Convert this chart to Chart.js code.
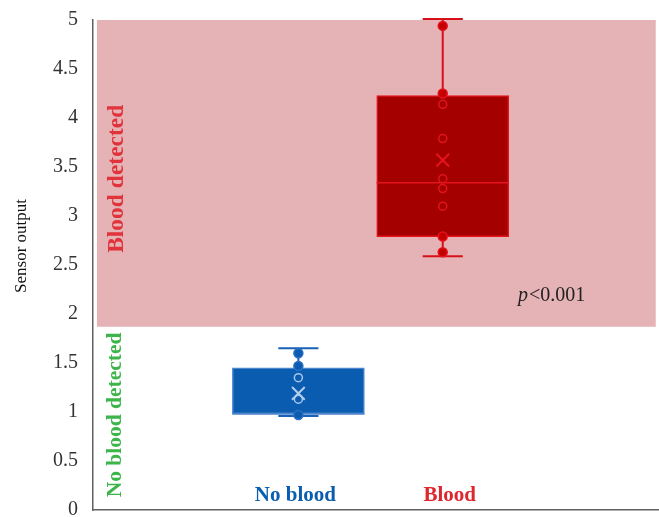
<!DOCTYPE html>
<html>
<head>
<meta charset="utf-8">
<script src="https://cdn.jsdelivr.net/npm/chart.js@4/dist/chart.umd.min.js"></script>
<style>
  html, body { margin: 0; padding: 0; background: #ffffff; overflow: hidden; width: 659px; height: 517px; }
  canvas { display: block; }
</style>
</head>
<body>
<canvas id="c" width="669" height="530"></canvas>
<script>
// ---- data ----
const categories = ['No blood', 'Blood'];
const whiskerMin = [0.96, 2.59];
const q1 = [0.98, 2.79];
const median = [0.98, 3.34];
const q3 = [1.45, 4.23];
const whiskerMax = [1.65, 5.01];
const mean = [1.19, 3.57];
const noBloodPoints = [1.60, 1.47, 1.35, 1.13, 0.97];
const bloodPoints = [4.94, 4.25, 4.14, 3.79, 3.38, 3.28, 3.10, 2.79, 2.63];
const pointsByCategory = [noBloodPoints, bloodPoints];
const bloodRegion = [1.87, 5];       // y-range of the "Blood detected" band
const pValueText = 'p<0.001';
const yAxisTitle = 'Sensor output';
const yMin = 0, yMax = 5, yStep = 0.5;

// ---- layout (x axis is a hidden 0..100 linear axis) ----
const CAT_X = [36.35, 61.9];
const CAP_HALF = 3.55;
const BOX_HALF = 11.7;
const SERIF = '"Liberation Serif", "DejaVu Serif", serif';

const palette = [
  { fill: '#0a5cb0', border: '#4d86cc', whisker: '#1762b8', pointFill: '#0b5cb0', pointBorder: '#2a6fc0', hollow: '#a9c6ea', mean: '#b3cdec', median: '#4d86cc', label: '#0b5db0' },
  { fill: '#a40000', border: '#e3141c', whisker: '#d8101a', pointFill: '#c40000', pointBorder: '#e3141c', hollow: '#e3141c', mean: '#e3141c', median: '#e3141c', label: '#e0262d' }
];

const datasets = [];
categories.forEach((cat, i) => {
  const cx = CAT_X[i];
  const col = palette[i];
  datasets.push({
    type: 'line', order: 6, label: cat + ' whisker', clip: 10,
    data: [{x: cx, y: whiskerMax[i]}, {x: cx, y: q3[i]}, {x: cx, y: null}, {x: cx, y: q1[i]}, {x: cx, y: whiskerMin[i]}],
    borderColor: col.whisker, borderWidth: 2, pointRadius: 0, spanGaps: false, fill: false
  });
  datasets.push({
    type: 'line', order: 6, label: cat + ' caps', clip: 10,
    data: [{x: cx - CAP_HALF, y: whiskerMax[i]}, {x: cx + CAP_HALF, y: whiskerMax[i]}, {x: cx, y: null},
           {x: cx - CAP_HALF, y: whiskerMin[i]}, {x: cx + CAP_HALF, y: whiskerMin[i]}],
    borderColor: col.whisker, borderWidth: 2, pointRadius: 0, spanGaps: false, fill: false
  });
});
datasets.push({
  type: 'bar', order: 5, label: 'box',
  data: categories.map((c, i) => ({x: CAT_X[i], y: [q1[i], q3[i]]})),
  backgroundColor: palette.map(p => p.fill),
  borderColor: palette.map(p => p.border),
  borderWidth: 1.5, borderSkipped: false,
  barThickness: 132
});
categories.forEach((cat, i) => {
  const cx = CAT_X[i];
  const col = palette[i];
  datasets.push({
    type: 'line', order: 4, label: cat + ' median',
    data: [{x: cx - BOX_HALF, y: median[i]}, {x: cx + BOX_HALF, y: median[i]}],
    borderColor: col.median, borderWidth: 1.5, pointRadius: 0, fill: false
  });
  const pts = pointsByCategory[i];
  const inside = pts.map(v => v > q1[i] && v < q3[i]);
  datasets.push({
    type: 'scatter', order: 3, label: cat + ' points', clip: 10,
    data: pts.map(v => ({x: cx, y: v})),
    pointRadius: pts.map((v, k) => inside[k] ? 4 : 4.5),
    pointBackgroundColor: pts.map((v, k) => inside[k] ? 'rgba(0,0,0,0)' : col.pointFill),
    pointBorderColor: pts.map((v, k) => inside[k] ? col.hollow : col.pointBorder),
    pointBorderWidth: 1.5
  });
  datasets.push({
    type: 'scatter', order: 2, label: cat + ' mean',
    data: [{x: cx, y: mean[i]}],
    pointStyle: 'crossRot', pointRadius: 9, pointBorderColor: col.mean, pointBorderWidth: 2
  });
});

const annotations = {
  id: 'annotations',
  beforeDatasetsDraw(chart) {
    const {ctx, scales: {x, y}} = chart;
    const l = x.getPixelForValue(0.7), r = x.getPixelForValue(99.6);
    const t = y.getPixelForValue(bloodRegion[1]), b = y.getPixelForValue(bloodRegion[0]);
    ctx.save();
    ctx.fillStyle = '#e5b3b5';
    ctx.fillRect(l, t, r - l, b - t);
    ctx.restore();
  },
  afterDraw(chart) {
    const {ctx, scales: {x, y}} = chart;
    ctx.save();
    const vtext = (txt, px, py, color, font) => {
      ctx.save();
      ctx.translate(px, py);
      ctx.rotate(-Math.PI / 2);
      ctx.font = font;
      ctx.fillStyle = color;
      ctx.textAlign = 'center';
      ctx.textBaseline = 'middle';
      ctx.fillText(txt, 0, 0);
      ctx.restore();
    };
    vtext('Blood detected', x.getPixelForValue(4.26), y.getPixelForValue(3.38), '#e0333b', 'bold 23.5px ' + SERIF);
    vtext('No blood detected', x.getPixelForValue(3.9), y.getPixelForValue(0.97), '#3db54a', 'bold 21.5px ' + SERIF);
    vtext(yAxisTitle, 22, (y.top + y.bottom) / 2 - 19, '#111111', '17px ' + SERIF);
    ctx.font = 'bold 21px ' + SERIF;
    ctx.textAlign = 'center';
    ctx.textBaseline = 'middle';
    categories.forEach((c, i) => {
      ctx.fillStyle = palette[i].label;
      ctx.fillText(c, x.getPixelForValue(CAT_X[i]) + (i === 1 ? 7 : -3), y.getPixelForValue(0.15));
    });
    ctx.fillStyle = '#222222';
    ctx.textBaseline = 'middle';
    ctx.textAlign = 'left';
    const px = x.getPixelForValue(75.2), py = y.getPixelForValue(2.19);
    ctx.font = 'italic 20px ' + SERIF;
    ctx.fillText(pValueText[0], px, py);
    const w = ctx.measureText(pValueText[0]).width;
    ctx.font = '20px ' + SERIF;
    ctx.fillText(pValueText.slice(1), px + w + 1, py);
    ctx.restore();
  }
};

new Chart(document.getElementById('c'), {
  data: { datasets },
  options: {
    responsive: false,
    animation: false,
    layout: { padding: { top: 18, right: 2, left: 0, bottom: 0 } },
    plugins: { legend: { display: false }, tooltip: { enabled: false } },
    scales: {
      x: {
        type: 'linear', min: 0, max: 100, offset: false,
        grid: { display: false, drawTicks: false },
        ticks: { display: false },
        border: { display: true, color: '#606060', width: 1.5 },
        afterFit(scale) { scale.height = 0; }
      },
      y: {
        type: 'linear', min: yMin, max: yMax,
        grid: { display: false, drawTicks: true, tickLength: 7, tickColor: '#606060' },
        border: { display: true, color: '#606060', width: 1.5 },
        ticks: { stepSize: yStep, color: '#333333', padding: 8, font: { family: SERIF, size: 20 },
                 callback: v => String(v) },
        afterFit(scale) { scale.width = 93; }
      }
    }
  },
  plugins: [annotations]
});
</script>
</body>
</html>
